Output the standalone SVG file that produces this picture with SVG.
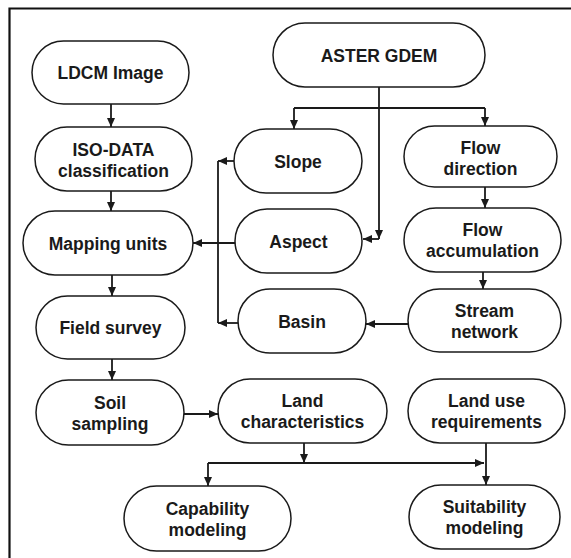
<svg xmlns="http://www.w3.org/2000/svg" width="571" height="558" viewBox="0 0 571 558">
<style>
.n rect{fill:#fff;stroke:#1a1a1a;stroke-width:1.5}
.n text{font-family:"Liberation Sans",Arial,sans-serif;font-weight:bold;font-size:17.5px;fill:#1a1a1a;text-anchor:middle}
.c path{fill:none;stroke:#1a1a1a;stroke-width:1.8}
</style>
<defs>
<marker id="ah" markerUnits="userSpaceOnUse" markerWidth="9" markerHeight="8" refX="9" refY="4" orient="auto">
<path d="M0,0 L9,4 L0,8 z" fill="#1a1a1a"/>
</marker>
</defs>
<rect width="571" height="558" fill="#fff"/>
<path d="M9.5,558 V8.5 H571" fill="none" stroke="#111" stroke-width="2.2"/>
<g class="c">
<path d="M111,104 V127" marker-end="url(#ah)"/>
<path d="M111,191 V211" marker-end="url(#ah)"/>
<path d="M112,275 V296" marker-end="url(#ah)"/>
<path d="M112,359 V380" marker-end="url(#ah)"/>
<path d="M379,87 V239" marker-end="url(#ah)"/>
<path d="M379,239 H363" marker-end="url(#ah)"/>
<path d="M294,108 H485"/>
<path d="M294,108 V129" marker-end="url(#ah)"/>
<path d="M485,108 V126" marker-end="url(#ah)"/>
<path d="M485,187 V208" marker-end="url(#ah)"/>
<path d="M483,272 V289" marker-end="url(#ah)"/>
<path d="M408,324 H366" marker-end="url(#ah)"/>
<path d="M235,161 H218" marker-end="url(#ah)"/>
<path d="M218,161 V323"/>
<path d="M238,323 H218" marker-end="url(#ah)"/>
<path d="M235,243 H193" marker-end="url(#ah)"/>
<path d="M184,414 H218" marker-end="url(#ah)"/>
<path d="M304,443 V463" marker-end="url(#ah)"/>
<path d="M208,463 H484" marker-end="url(#ah)"/>
<path d="M208,463 V486" marker-end="url(#ah)"/>
<path d="M486,443 V485" marker-end="url(#ah)"/>
</g>
<g id="ldcm" class="n"><rect x="32" y="41" width="157" height="63" rx="31.5"/><text x="110.5" y="79">LDCM Image</text></g>
<g id="iso" class="n"><rect x="35" y="127" width="157" height="64" rx="32"/><text x="113.5" y="156">ISO-DATA</text><text x="113.5" y="177">classification</text></g>
<g id="mapping" class="n"><rect x="23" y="211" width="170" height="64" rx="32"/><text x="108" y="249.5">Mapping units</text></g>
<g id="field" class="n"><rect x="36" y="296" width="149" height="63" rx="31.5"/><text x="110.5" y="334">Field survey</text></g>
<g id="soil" class="n"><rect x="36" y="380" width="148" height="65" rx="32.5"/><text x="110" y="409">Soil</text><text x="110" y="430">sampling</text></g>
<g id="capability" class="n"><rect x="124" y="486" width="167" height="65" rx="32.5"/><text x="207.5" y="515">Capability</text><text x="207.5" y="536">modeling</text></g>
<g id="aster" class="n"><rect x="273" y="23" width="212" height="64" rx="32"/><text x="379" y="61.5">ASTER GDEM</text></g>
<g id="slope" class="n"><rect x="234" y="129" width="128" height="64" rx="32"/><text x="298" y="167.5">Slope</text></g>
<g id="flowdir" class="n"><rect x="404" y="126" width="153" height="61" rx="30.5"/><text x="480.5" y="154">Flow</text><text x="480.5" y="175">direction</text></g>
<g id="aspect" class="n"><rect x="235" y="209" width="127" height="64" rx="32"/><text x="298.5" y="247.5">Aspect</text></g>
<g id="flowacc" class="n"><rect x="404" y="208" width="157" height="64" rx="32"/><text x="482.5" y="236">Flow</text><text x="482.5" y="257">accumulation</text></g>
<g id="basin" class="n"><rect x="238" y="289" width="128" height="64" rx="32"/><text x="302" y="327.5">Basin</text></g>
<g id="stream" class="n"><rect x="408" y="289" width="153" height="63" rx="31.5"/><text x="484.5" y="317">Stream</text><text x="484.5" y="338">network</text></g>
<g id="landchar" class="n"><rect x="218" y="379" width="169" height="64" rx="32"/><text x="302.5" y="407">Land</text><text x="302.5" y="428">characteristics</text></g>
<g id="landuse" class="n"><rect x="408" y="379" width="157" height="64" rx="32"/><text x="486.5" y="407">Land use</text><text x="486.5" y="428">requirements</text></g>
<g id="suit" class="n"><rect x="409" y="485" width="151" height="64" rx="32"/><text x="484.5" y="513">Suitability</text><text x="484.5" y="534">modeling</text></g>
</svg>
